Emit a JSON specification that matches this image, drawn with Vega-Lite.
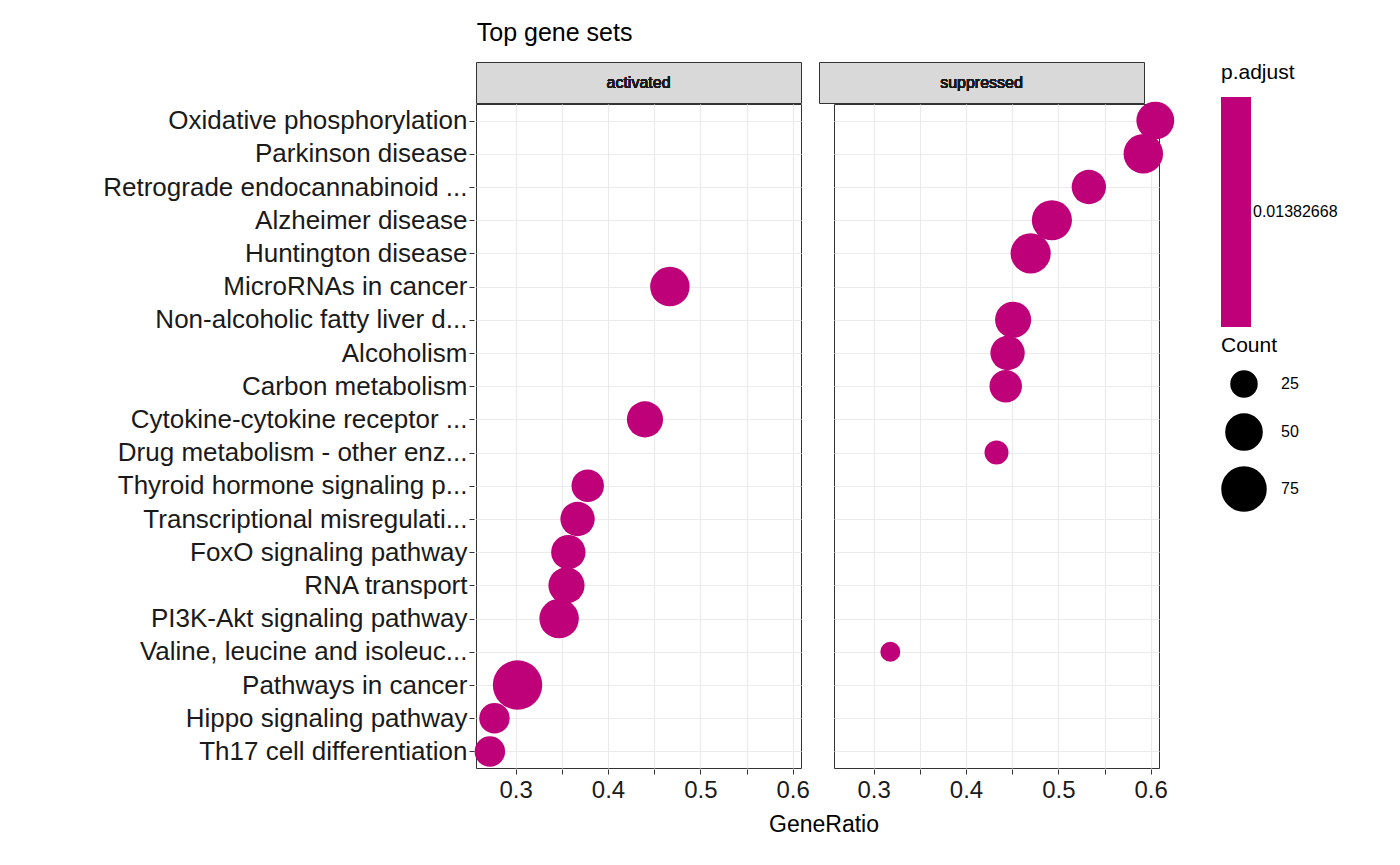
{
"$schema":"https://vega.github.io/schema/vega-lite/v6.json",
"background":"white",
"padding":{"left":102,"top":20,"right":10,"bottom":10},
"title":{"text":"Top gene sets","anchor":"start","fontSize":25,"fontWeight":"normal","font":"Liberation Sans","color":"black","offset":16,"dx":374},
"config":{"font":"Liberation Sans","view":{"stroke":"#333333"}},
"datasets":{
"d":[
{"panel":"activated","term":"MicroRNAs in cancer","ratio":0.467,"count":60,"padj":0.01382668},
{"panel":"activated","term":"Cytokine-cytokine receptor ...","ratio":0.44,"count":50,"padj":0.01382668},
{"panel":"activated","term":"Thyroid hormone signaling p...","ratio":0.378,"count":40,"padj":0.01382668},
{"panel":"activated","term":"Transcriptional misregulati...","ratio":0.367,"count":45,"padj":0.01382668},
{"panel":"activated","term":"FoxO signaling pathway","ratio":0.357,"count":45,"padj":0.01382668},
{"panel":"activated","term":"RNA transport","ratio":0.355,"count":50,"padj":0.01382668},
{"panel":"activated","term":"PI3K-Akt signaling pathway","ratio":0.347,"count":60,"padj":0.01382668},
{"panel":"activated","term":"Pathways in cancer","ratio":0.302,"count":95,"padj":0.01382668},
{"panel":"activated","term":"Hippo signaling pathway","ratio":0.277,"count":35,"padj":0.01382668},
{"panel":"activated","term":"Th17 cell differentiation","ratio":0.272,"count":35,"padj":0.01382668},
{"panel":"suppressed","term":"Oxidative phosphorylation","ratio":0.605,"count":55,"padj":0.01382668},
{"panel":"suppressed","term":"Parkinson disease","ratio":0.592,"count":60,"padj":0.01382668},
{"panel":"suppressed","term":"Retrograde endocannabinoid ...","ratio":0.533,"count":45,"padj":0.01382668},
{"panel":"suppressed","term":"Alzheimer disease","ratio":0.493,"count":62,"padj":0.01382668},
{"panel":"suppressed","term":"Huntington disease","ratio":0.47,"count":62,"padj":0.01382668},
{"panel":"suppressed","term":"Non-alcoholic fatty liver d...","ratio":0.451,"count":50,"padj":0.01382668},
{"panel":"suppressed","term":"Alcoholism","ratio":0.445,"count":45,"padj":0.01382668},
{"panel":"suppressed","term":"Carbon metabolism","ratio":0.443,"count":40,"padj":0.01382668},
{"panel":"suppressed","term":"Drug metabolism - other enz...","ratio":0.433,"count":21,"padj":0.01382668},
{"panel":"suppressed","term":"Valine, leucine and isoleuc...","ratio":0.318,"count":14,"padj":0.01382668}
]},
"vconcat":[
{"data":{"name":"d"},
"facet":{"column":{"field":"panel","type":"nominal","header":{"title":null,"labels":false}}},
"spacing":16,
"spec":{"width":325,"height":41,"view":{"fill":"#D9D9D9","stroke":"#333333"},
"mark":{"type":"text","fontSize":16,"fontWeight":"normal","color":"#1A1A1A","font":"Liberation Sans"},
"encoding":{"text":{"field":"panel","type":"nominal"}}}},
{"data":{"name":"d"},
"facet":{"column":{"field":"panel","type":"nominal","header":{"title":"GeneRatio","titleOrient":"bottom","titleFontSize":23,"titleFontWeight":"normal","titleColor":"black","titleFont":"Liberation Sans","labels":false,"titlePadding":2}}},
"spacing":16,
"spec":{"width":325,"height":664,
"mark":{"type":"circle","opacity":1},
"encoding":{
"x":{"field":"ratio","type":"quantitative","scale":{"domain":[0.257,0.609],"nice":false,"zero":false},
"axis":{"title":null,"values":[0.25,0.3,0.35,0.4,0.45,0.5,0.55,0.6],"labelExpr":"(round(datum.value*100)%10==0)?format(datum.value,'.1f'):''","labelFontSize":24,"labelColor":"#1A1A1A","tickColor":"#333333","tickSize":5,"domain":false,"gridColor":"#EBEBEB","gridWidth":1.2,"labelPadding":4}},
"y":{"field":"term","type":"nominal","sort":["Oxidative phosphorylation","Parkinson disease","Retrograde endocannabinoid ...","Alzheimer disease","Huntington disease","MicroRNAs in cancer","Non-alcoholic fatty liver d...","Alcoholism","Carbon metabolism","Cytokine-cytokine receptor ...","Drug metabolism - other enz...","Thyroid hormone signaling p...","Transcriptional misregulati...","FoxO signaling pathway","RNA transport","PI3K-Akt signaling pathway","Valine, leucine and isoleuc...","Pathways in cancer","Hippo signaling pathway","Th17 cell differentiation"],
"scale":{"type":"point","padding":0.5},
"axis":{"title":null,"labelFontSize":26,"labelColor":"#1A1A1A","labelLimit":600,"tickColor":"#333333","tickSize":5,"domain":false,"grid":true,"gridColor":"#EBEBEB","gridWidth":1.2}},
"size":{"field":"count","type":"quantitative","title":"Count","scale":{"type":"linear","domain":[25,75],"range":[676,1936],"zero":false,"clamp":false},
"legend":{"values":[25,50,75],"symbolFillColor":"black","symbolStrokeColor":"black","symbolOpacity":1,"titleFontSize":21,"titleFontWeight":"normal","labelFontSize":16,"titleColor":"black","labelColor":"black","orient":"right","offset":46,"rowPadding":10,"labelOffset":14,"titlePadding":14}},
"color":{"field":"padj","type":"quantitative","title":"p.adjust","scale":{"domain":[0.01372668,0.01392668],"range":["#BE0079","#BE0079"]},
"legend":{"values":[0.01382668],"labelExpr":"'0.01382668'","gradientLength":230,"gradientThickness":30,"titleFontSize":21,"titleFontWeight":"normal","labelFontSize":16,"titleColor":"black","labelColor":"black","orient":"right","offset":46,"tickCount":1,"gradientStrokeWidth":0,"titlePadding":14,"padding":0}}
}}}
],
"spacing":-5,
"resolve":{"legend":{"size":"shared","color":"shared"}}
}
